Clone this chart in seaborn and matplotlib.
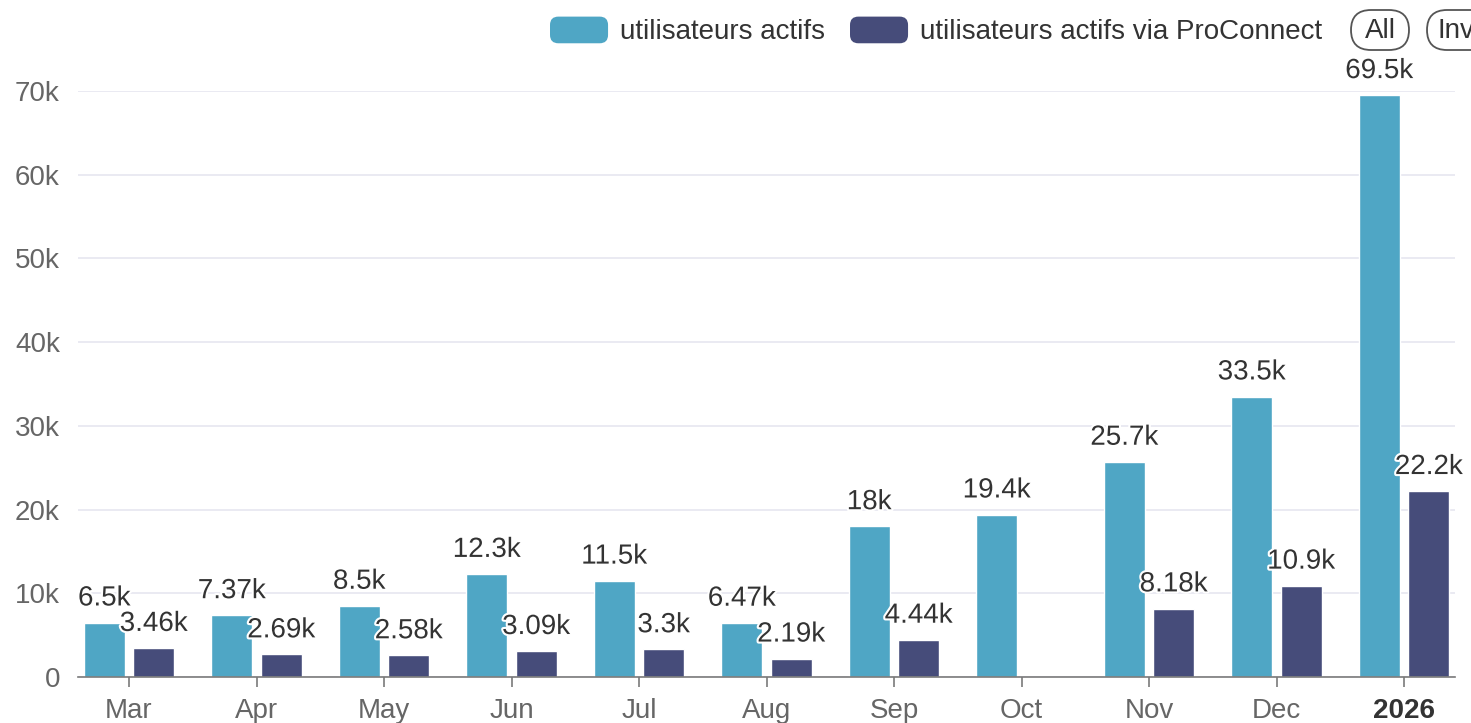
import matplotlib
matplotlib.use("Agg")
import matplotlib.pyplot as plt
import matplotlib.patheffects as pe
from matplotlib.patches import Patch, FancyBboxPatch
from matplotlib.legend_handler import HandlerPatch
import seaborn as sns
import numpy as np
import pandas as pd

months = ["Mar", "Apr", "May", "Jun", "Jul", "Aug", "Sep", "Oct", "Nov", "Dec", "2026"]
actifs = [6500, 7370, 8500, 12300, 11500, 6470, 18000, 19400, 25700, 33500, 69500]
proconnect = [3460, 2690, 2580, 3090, 3300, 2190, 4440, np.nan, 8180, 10900, 22200]
series = ["utilisateurs actifs", "utilisateurs actifs via ProConnect"]
colors = ["#4fa6c5", "#464c7a"]

df = pd.DataFrame({
    "mois": months * 2,
    "valeur": actifs + proconnect,
    "serie": [series[0]] * len(months) + [series[1]] * len(months),
})

sns.set_style("white")
plt.rcParams["font.family"] = ["Liberation Sans", "DejaVu Sans"]
FS = 20

W, H = 1471, 723
fig = plt.figure(figsize=(W / 100, H / 100), dpi=100)
ax = fig.add_axes([78 / W, 46 / H, (1455 - 78) / W, (677 - 91) / H])

sns.barplot(data=df, x="mois", y="valeur", hue="serie", order=months,
            hue_order=series, palette=colors, width=0.776, gap=0.162,
            saturation=1, ax=ax, legend=False)

# --- étiquettes de valeurs
def fmt_k(v):
    return f"{v / 1000:.3g}k"

for cont in ax.containers:
    labels = ax.bar_label(cont, fmt=fmt_k, padding=8, fontsize=FS, color="#333333")
    for t in labels:
        t.set_path_effects([pe.withStroke(linewidth=3, foreground="white")])
        t.set_clip_on(False)

# --- axes
ax.set_ylim(0, 70000)
ax.set_xlim(-0.4, 10.4)
ax.set_yticks(np.arange(0, 70001, 10000))
ax.set_yticklabels(["0"] + [f"{i}k" for i in range(10, 71, 10)])
ax.yaxis.grid(True, color="#e6e6f0", linewidth=1.2)
ax.set_axisbelow(True)
for s in ["top", "right", "left"]:
    ax.spines[s].set_visible(False)
ax.spines["bottom"].set_color("#7a7a7a")
ax.spines["bottom"].set_linewidth(1.2)
ax.tick_params(axis="y", length=0, pad=13, labelsize=FS, labelcolor="#666666")
ax.tick_params(axis="x", length=7, width=1.2, color="#7a7a7a", pad=8,
               labelsize=FS, labelcolor="#666666", bottom=True)
xt = ax.get_xticklabels()
xt[-1].set_fontweight("bold")
xt[-1].set_color("#333333")
ax.set_xlabel("")
ax.set_ylabel("")


# --- légende (pastilles arrondies)
class RoundHandler(HandlerPatch):
    def create_artists(self, legend, orig_handle, xdescent, ydescent,
                       width, height, fontsize, trans):
        p = FancyBboxPatch((-xdescent, -ydescent), width, height,
                           boxstyle="round,pad=0,rounding_size=6",
                           fc=orig_handle.get_facecolor(), ec="none",
                           transform=trans)
        return [p]


handles = [Patch(facecolor=c) for c in colors]
leg = fig.legend(handles, series, loc="center left",
                 bbox_to_anchor=(550 / W, 1 - 31 / H), ncol=2, frameon=False,
                 fontsize=FS, handlelength=2.09, handleheight=1.1,
                 handletextpad=0.43, columnspacing=0.9, borderpad=0,
                 borderaxespad=0, handler_map={Patch: RoundHandler()})
for txt in leg.get_texts():
    txt.set_color("#333333")

# boutons "All" / "Inv"
for x0, x1 in [(1351, 1409), (1427, 1500)]:
    fig.patches.append(FancyBboxPatch((x0 / W, 1 - 50 / H), (x1 - x0) / W, 40 / H,
                                      boxstyle="round,pad=0,rounding_size=0.0136",
                                      transform=fig.transFigure, fc="white",
                                      ec="#555555", lw=1.3, mutation_aspect=W / H))
fig.text(1380 / W, 1 - 31 / H, "All", ha="center", va="center", fontsize=FS, color="#333333")
fig.text(1437 / W, 1 - 31 / H, "Inv", ha="left", va="center", fontsize=FS, color="#333333")

fig.savefig("out.png", dpi=100, facecolor="white")
